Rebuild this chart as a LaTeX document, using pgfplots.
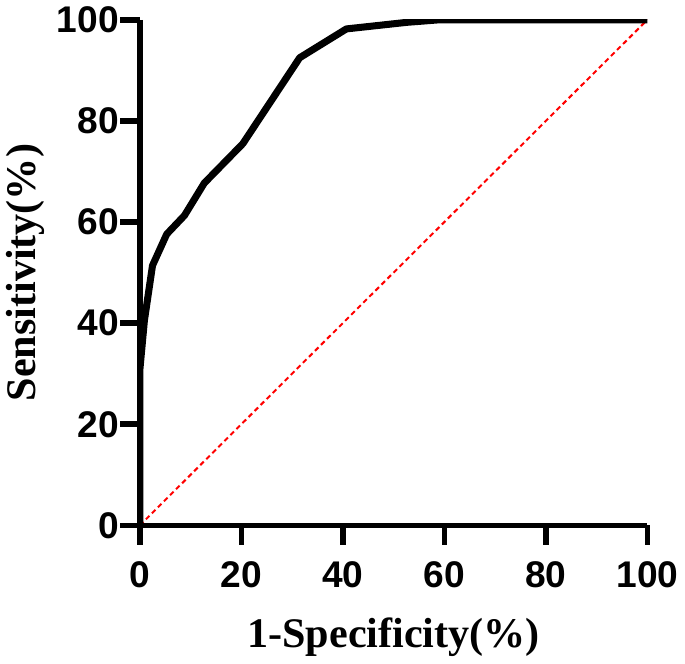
\documentclass[border=0pt]{standalone}
\usepackage{pgfplots}
\pgfplotsset{compat=1.18}
\usepackage{fontspec}
\setmainfont{Liberation Serif}
\newfontfamily\arialfont{Liberation Sans}
\begin{document}
\begin{tikzpicture}
\begin{axis}[
  scale only axis, width=253pt, height=252pt,
  xmin=0, xmax=100, ymin=0, ymax=100,
  axis line style={draw=none},
  xtick pos=bottom, ytick pos=left,
  tick align=outside,
  major tick length=10pt,
  tick style={draw=none},
  xtick={0,20,...,100}, ytick={0,20,...,100},
  ticklabel style={font=\arialfont\bfseries\fontsize{18.5}{21}\selectfont},
  xticklabel style={yshift=-4.5pt},
  yticklabel style={xshift=3pt},
  /pgf/number format/assume math mode=true,
  xlabel={1-Specificity(\%)}, ylabel={Sensitivity(\%)},
  label style={font=\bfseries\fontsize{21}{24}\selectfont},
  xlabel style={yshift=-8pt},
  ylabel style={yshift=-1pt},
  after end axis/.code={
    \draw[black, line width=2.75pt, line join=miter] (rel axis cs:0,1) -- (rel axis cs:0,0) -- (rel axis cs:1,0);
    \foreach \t in {0,20,40,60,80,100} {
      \draw[black, line width=2.75pt] (axis cs:\t,0) -- ++(0pt,-10pt);
      \draw[black, line width=2.75pt] (axis cs:0,\t) -- ++(-10pt,0pt);
    }
  },
]
\addplot[red, line width=1pt, dash pattern=on 2.5pt off 1.75pt] coordinates {(0,0) (100,100)};
\addplot[black, line width=3.5pt, line join=round, line cap=round] coordinates {
(0,0) (0,30.7) (0.9,40.5) (2.5,51.4) (5.3,57.6) (8.8,61.3) (12.7,67.7) (20.3,75.5) (31.5,92.5) (40.7,98.2) (52.6,99.5) (59,100) (100,100)
};
\end{axis}
\end{tikzpicture}
\end{document}
